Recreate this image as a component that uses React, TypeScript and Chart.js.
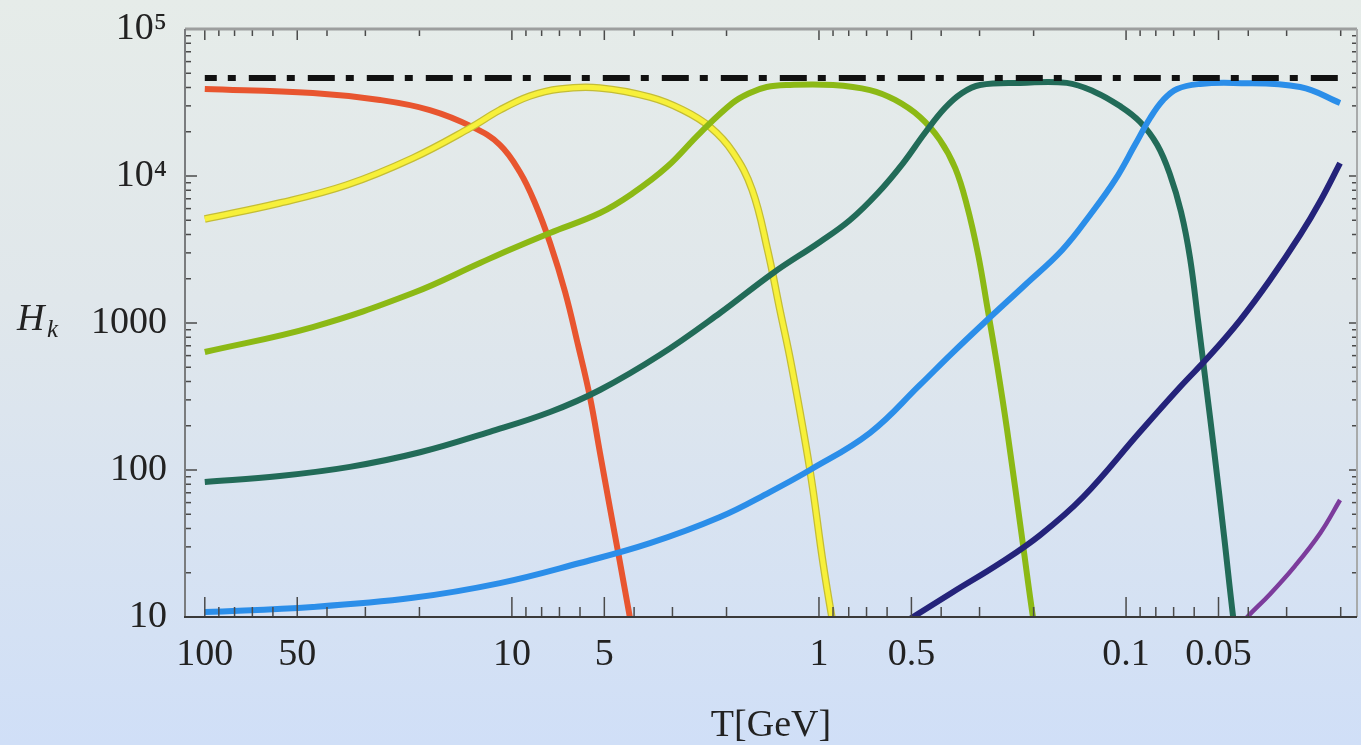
import React, { useEffect, useRef } from 'react';
import { Chart, registerables } from 'chart.js';

Chart.register(...registerables);

const FONT = '"Liberation Serif", "Times New Roman", "DejaVu Serif", serif';

// axis ticks
const xTickValues = [100, 50, 10, 5, 1, 0.5, 0.1, 0.05];
const xTickText = ['100', '50', '10', '5', '1', '0.5', '0.1', '0.05'];
const yTickValues = [10, 100, 1000, 10000, 100000];
const yTickText = ['10', '100', '1000', '10⁴', '10⁵'];

const X_MIN = 0.0177;
const X_MAX = 116;
const Y_MIN = 10;
const Y_MAX = 100000;

// dashed upper bound
const capT = [100, 0.02];
const capH = [46400, 46400];

// series (T in GeV, H_k)
const redT = [100, 44.5, 26.9, 18.5, 13.4, 10.94, 9.42, 8.41, 7.51, 6.71, 6.09, 5.57, 5.17, 4.8, 4.45, 4.13, 3.95];
const redH = [39100, 36700, 32900, 28100, 21500, 16300, 10640, 6550, 3500, 1625, 708, 314, 132, 56, 23.7, 10, 6];

const yellowT = [100, 57, 34.5, 21.0, 13.7, 10.94, 8.74, 6.98, 5.17, 3.55, 2.77, 2.26, 1.91, 1.65, 1.47, 1.34, 1.23, 1.07, 0.97, 0.908, 0.855];
const yellowH = [5100, 6550, 8690, 13250, 21200, 28100, 35000, 39100, 39700, 34400, 28100, 21500, 14600, 8040, 3140, 1225, 518, 100, 23.3, 10, 5.1];

const greenT = [100, 44.5, 21.0, 12.7, 10.2, 7.52, 5.17, 4.03, 3.13, 2.44, 1.91, 1.68, 1.48, 1.27, 0.9, 0.682, 0.565, 0.469, 0.404, 0.36, 0.33, 0.303, 0.282, 0.263, 0.244, 0.217, 0.201, 0.1905];
const greenH = [635, 939, 1600, 2560, 3140, 4100, 5600, 7660, 11500, 19600, 31400, 36700, 40300, 41600, 41600, 38400, 32900, 25200, 17600, 11300, 6350, 2900, 1225, 518, 187, 31.9, 10, 5.1];

const tealT = [100, 57.0, 33.7, 19.9, 11.8, 7.51, 5.17, 3.3, 2.1, 1.41, 0.993, 0.792, 0.643, 0.532, 0.452, 0.389, 0.342, 0.299, 0.221, 0.156, 0.126, 0.1047, 0.09, 0.0792, 0.0719, 0.0662, 0.0619, 0.0582, 0.0548, 0.0516, 0.048, 0.0448, 0.0425];
const tealH = [82.8, 91.0, 105, 132, 182, 248, 350, 605, 1170, 2190, 3560, 5020, 7660, 12240, 19600, 29000, 36700, 41600, 43000, 43000, 37200, 29900, 23300, 16300, 10200, 5690, 2770, 1016, 367, 132, 36.1, 10, 4.4];

const blueT = [100, 44.5, 21.0, 10.94, 6.01, 3.55, 2.1, 1.445, 1.07, 0.682, 0.469, 0.374, 0.288, 0.2133, 0.1614, 0.131, 0.1086, 0.0935, 0.0835, 0.0757, 0.0682, 0.0574, 0.0448, 0.0271, 0.0201];
const blueH = [10.8, 11.7, 13.5, 17.0, 23.3, 31.8, 47.9, 70.8, 100, 179, 379, 605, 1016, 1815, 3140, 5430, 9400, 16300, 24800, 32900, 39100, 42300, 43000, 40300, 31400];

const navyT = [0.544, 0.494, 0.366, 0.257, 0.1905, 0.138, 0.09, 0.0667, 0.0532, 0.0425, 0.034, 0.0271, 0.0233, 0.0201];
const navyH = [8.8, 10, 14.8, 23.3, 36.1, 65.5, 182, 367, 605, 1047, 1960, 3970, 6760, 12240];

const purpleT = [0.0425, 0.0403, 0.034, 0.0282, 0.0233, 0.0201];
const purpleH = [8.8, 10, 14.3, 22.2, 37.3, 62.5];

const pts = (t: number[], h: number[]) => t.map((x, i) => ({ x, y: h[i] }));

const isTick = (list: number[], v: number) => list.some((t) => Math.abs(t - v) / t < 1e-6);

const decorPlugin = {
  id: 'decor',
  afterDraw(chart: any) {
    const { ctx, chartArea: a } = chart;
    const xs = chart.scales.x;
    const ys = chart.scales.y;
    ctx.save();
    const seg = (x1: number, y1: number, x2: number, y2: number) => {
      ctx.beginPath();
      ctx.moveTo(x1, y1);
      ctx.lineTo(x2, y2);
      ctx.stroke();
    };
    ctx.strokeStyle = '#4a4a4a';
    ctx.lineWidth = 1.5;
    for (let e = -2; e <= 2; e++) {
      for (let m = 1; m <= 9; m++) {
        const v = m * Math.pow(10, e);
        if (v < X_MIN || v > X_MAX) continue;
        const px = xs.getPixelForValue(v);
        const major = isTick(xTickValues, v);
        seg(px, a.bottom, px, a.bottom - (major ? 20 : 10));
        seg(px, a.top, px, a.top + (major ? 11 : 7));
      }
    }
    for (let e = 1; e <= 4; e++) {
      for (let m = 1; m <= 9; m++) {
        const v = m * Math.pow(10, e);
        if (v <= Y_MIN || v >= Y_MAX) continue;
        const py = ys.getPixelForValue(v);
        const major = m === 1;
        seg(a.left, py, a.left + (major ? 12 : 6), py);
        seg(a.right, py, a.right - (major ? 8 : 5), py);
      }
    }
    // frame
    ctx.lineWidth = 3;
    ctx.strokeStyle = '#9c9e9e';
    seg(a.left, a.top, a.right, a.top);
    ctx.lineWidth = 2;
    ctx.strokeStyle = '#a8aaaa';
    seg(a.right, a.top, a.right, a.bottom);
    ctx.strokeStyle = '#7a7c7e';
    seg(a.left, a.top, a.left, a.bottom);
    ctx.strokeStyle = '#3a3a3a';
    seg(a.left - 1, a.bottom, a.right, a.bottom);
    // y axis label H_k
    ctx.fillStyle = '#222';
    ctx.textAlign = 'left';
    ctx.textBaseline = 'alphabetic';
    ctx.font = `italic 38px ${FONT}`;
    ctx.fillText('H', 17, 330);
    ctx.font = `italic 25px ${FONT}`;
    ctx.fillText('k', 47, 337);
    ctx.restore();
  },
};

export default function App() {
  const ref = useRef<HTMLCanvasElement>(null);

  useEffect(() => {
    const line = (t: number[], h: number[], color: string, order: number, width = 6) => ({
      data: pts(t, h),
      borderColor: color,
      backgroundColor: color,
      borderWidth: width,
      pointRadius: 0,
      fill: false,
      tension: 0.4,
      borderCapStyle: 'butt' as const,
      borderJoinStyle: 'round' as const,
      clip: 0,
      order,
    });

    const chart = new Chart(ref.current!, {
      type: 'line',
      data: {
        datasets: [
          line(redT, redH, '#e8552f', 9),
          line(yellowT, yellowH, '#c4bd35', 8, 7.5),
          line(yellowT, yellowH, '#f7f03a', 7, 5),
          line(greenT, greenH, '#8cb915', 6),
          line(tealT, tealH, '#226b58', 5),
          line(blueT, blueH, '#2b8ee9', 4),
          line(navyT, navyH, '#24237a', 3),
          line(purpleT, purpleH, '#7c3c9c', 2, 4.5),
          {
            data: pts(capT, capH),
            borderColor: '#111',
            borderWidth: 6,
            pointRadius: 0,
            fill: false,
            borderDash: [27, 11, 8, 13],
            borderDashOffset: 15,
            borderCapStyle: 'butt' as const,
            clip: 0,
            order: 1,
          },
        ],
      },
      options: {
        responsive: false,
        devicePixelRatio: 1,
        animation: false,
        events: [],
        layout: { padding: { top: 29, right: 4, left: 0, bottom: 0 } },
        plugins: {
          legend: { display: false },
          tooltip: { enabled: false },
          title: { display: false },
        },
        scales: {
          x: {
            type: 'logarithmic',
            reverse: true,
            min: X_MIN,
            max: X_MAX,
            grid: { display: false, drawTicks: false },
            border: { display: false },
            afterBuildTicks: (s: any) => {
              s.ticks = xTickValues.map((v) => ({ value: v }));
            },
            afterFit: (s: any) => {
              s.height = 128;
              s.paddingLeft = 0;
              s.paddingRight = 0;
            },
            ticks: {
              autoSkip: false,
              maxRotation: 0,
              minRotation: 0,
              padding: 15,
              color: '#222',
              font: { family: FONT, size: 38 },
              callback: (v: any) => {
                const i = xTickValues.findIndex((t) => Math.abs(t - Number(v)) / t < 1e-6);
                return i >= 0 ? xTickText[i] : '';
              },
            },
            title: {
              display: true,
              text: 'T[GeV]',
              color: '#222',
              font: { family: FONT, size: 38, lineHeight: 1 },
              padding: { top: 0, bottom: 0 },
            },
          },
          y: {
            type: 'logarithmic',
            min: Y_MIN,
            max: Y_MAX,
            grid: { display: false, drawTicks: false },
            border: { display: false },
            afterBuildTicks: (s: any) => {
              s.ticks = yTickValues.map((v) => ({ value: v }));
            },
            afterFit: (s: any) => {
              s.width = 185;
              s.paddingTop = 0;
              s.paddingBottom = 0;
            },
            ticks: {
              autoSkip: false,
              padding: 18,
              color: '#222',
              font: { family: FONT, size: 38 },
              callback: (v: any) => {
                const i = yTickValues.findIndex((t) => Math.abs(t - Number(v)) / t < 1e-6);
                return i >= 0 ? yTickText[i] : '';
              },
            },
          },
        },
      },
      plugins: [decorPlugin],
    } as any);

    return () => chart.destroy();
  }, []);

  return (
    <div
      style={{
        position: 'fixed',
        left: 0,
        top: 0,
        width: 1361,
        height: 745,
        background: 'linear-gradient(to bottom, #e6ece9 0%, #e0e7eb 40%, #d8e3f1 70%, #d0dff7 100%)',
      }}
    >
      <canvas ref={ref} width={1361} height={745} style={{ display: 'block', width: 1361, height: 745 }} />
    </div>
  );
}
